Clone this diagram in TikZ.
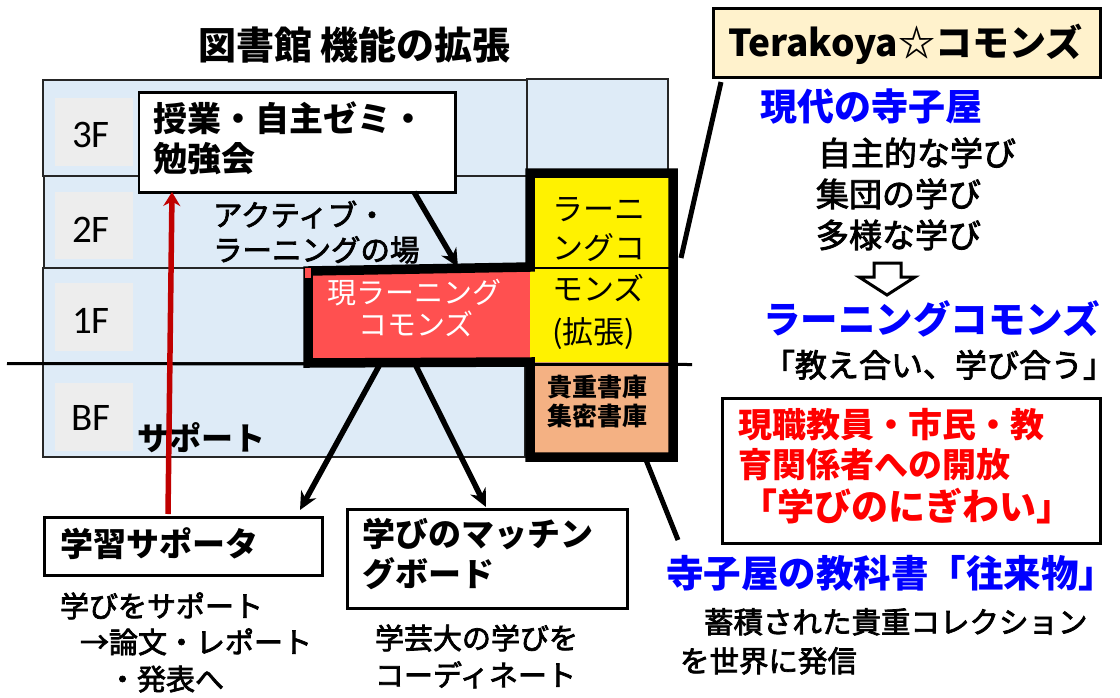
\documentclass[tikz,border=0pt]{standalone}
\usepackage{fontspec}
\setmainfont{Carlito}
\newfontfamily\jp{Noto Sans CJK JP}
\newfontfamily\jpm{Noto Sans CJK JP}[FakeBold=2.5]
\usetikzlibrary{arrows.meta}
\definecolor{lblue}{HTML}{DEEBF7}
\definecolor{lgray}{HTML}{EDEDED}
\definecolor{rfill}{HTML}{FF5050}
\definecolor{ofill}{HTML}{F4B183}
\definecolor{beige}{HTML}{FFF2CC}
\definecolor{tblue}{HTML}{0000FF}
\definecolor{tred}{HTML}{FF0000}
\definecolor{darr}{HTML}{C00000}
\newcommand\fs[1]{\fontsize{#1}{#1}\selectfont}
\begin{document}
\begin{tikzpicture}[x=1pt,y=-1pt,
  t/.style={inner sep=0pt,outer sep=0pt,anchor=base west,font=\jp},
  tc/.style={inner sep=0pt,outer sep=0pt,anchor=base,font=\jp},
  floor/.style={draw=black!85,line width=1.5pt,fill=lblue},
  flab/.style={fill=lgray},
  box/.style={draw=black,line width=2.5pt,fill=white,inner sep=0pt,anchor=north west},
  arr/.style={line width=5.5pt,-{Stealth[length=18pt,width=17pt]}},
  redarr/.style={draw=darr,line width=5.5pt,-{Stealth[length=14pt,width=17pt]}},
  callout/.style={line width=5pt},
]
\useasboundingbox (0,0) rectangle (1120,697);
\fill[white] (0,0) rectangle (1120,697);

% title
\node[t,font=\jp\fs{38}\bfseries] (title) at (198,59) {図書館 機能の拡張};

% floors
\draw[floor] (43,80) rectangle (527,176);
\draw[floor] (44,176) rectangle (527,268);
\draw[floor] (43,268) rectangle (527,363);
\draw[floor] (43,363) rectangle (525,457);
\draw[floor] (527,79) rectangle (668,172);
\fill[flab] (55,98) rectangle (133,166);
\fill[flab] (55,192) rectangle (133,259);
\fill[flab] (55,283) rectangle (133,351);
\fill[flab] (55,383) rectangle (133,451);
\node[tc,font=\rmfamily\fs{39}] (f3) at (91,147) {3F};
\node[tc,font=\rmfamily\fs{39}] (f2) at (91,242) {2F};
\node[tc,font=\rmfamily\fs{39}] (f1) at (91,333) {1F};
\node[tc,font=\rmfamily\fs{39}] (fb) at (91,430) {BF};

% coloured areas
\node[fill=rfill,inner sep=0pt,anchor=north west,minimum width=220pt,minimum height=86pt] (lc) at (310,272) {};
\fill[yellow] (530,175) rectangle (670,362);
\draw[line width=1.5pt] (530,268) -- (670,268);
\fill[ofill] (530,362) rectangle (670,457);
\draw[line width=9.5pt,line join=miter] (308,363) -- (308,271) -- (530,267) -- (530,173) -- (673,173) -- (673,457) -- (530,457) -- (530,362) -- cycle;
\fill[rfill] (305,268) rectangle (311,278);
\draw[line width=3pt] (7,363.5) -- (692,364.5);

\node[tc,font=\jp\fs{29},text=white] (lc1) at (414,303) {現ラーニング};
\node[tc,font=\jp\fs{29},text=white] (lc2) at (416,335) {コモンズ};
\node[t,font=\jp\fs{31}] (y1) at (552,220.5) {ラーニ};
\node[t,font=\jp\fs{31}] (y2) at (552,259.5) {ングコ};
\node[t,font=\jp\fs{31}] (y3) at (552,300.5) {モンズ};
\node[t,font=\jp\fs{31}] (y4) at (552,343) {(拡張)};
\node[t,font=\jp\fs{25}\bfseries] (o1) at (547,396.5) {貴重書庫};
\node[t,font=\jp\fs{25}\bfseries] (o2) at (547,425.5) {集密書庫};

% 3F box
\node[box,minimum width=316.5pt,minimum height=100pt] (jugyo) at (137.5,91) {};
\node[t,font=\jp\fs{34}\bfseries] (j1) at (153,131) {授業・自主ゼミ・};
\node[t,font=\jp\fs{34}\bfseries] (j2) at (153,171) {勉強会};
\node[t,font=\jpm\fs{29.5}] (ac1) at (213,226) {アクティブ・};
\node[t,font=\jpm\fs{29.5}] (ac2) at (213,261) {ラーニングの場};
\coordinate (a1s) at (414,192);
\coordinate (a1e) at (458,267);
\draw[arr] (a1s) -- (a1e);

% support
\node[t,font=\jp\fs{32}\bfseries] (sup) at (137,450) {サポート};
\node[box,minimum width=278pt,minimum height=58pt] (supbox) at (43,516) {};
\node[t,font=\jp\fs{33}\bfseries] (s1) at (60,556.5) {学習サポータ};
\node[t,font=\jpm\fs{29}] (s2) at (60,617) {学びをサポート};
\node[t,font=\jpm\fs{29}] (s3) at (80,653) {→論文・レポート};
\node[t,font=\jpm\fs{29}] (s4) at (108,690) {・発表へ};
\coordinate (rs) at (168,514);
\coordinate (re) at (172,192);
\draw[redarr] (rs) -- (re);

% matching board
\node[box,minimum width=280pt,minimum height=99pt] (match) at (346,508) {};
\node[t,font=\jp\fs{33}\bfseries] (m1) at (362,546.5) {学びのマッチン};
\node[t,font=\jp\fs{33}\bfseries] (m2) at (362,586.5) {グボード};
\node[t,font=\jpm\fs{29}] (g1) at (375,649) {学芸大の学びを};
\node[t,font=\jpm\fs{29}] (g2) at (375,686) {コーディネート};

\coordinate (b1s) at (379,366);
\coordinate (b1e) at (300,510);
\coordinate (b2s) at (416,366);
\coordinate (b2e) at (486,507);
\draw[arr] (b1s) -- (b1e);
\draw[arr] (b2s) -- (b2e);

% right side
\node[draw,line width=2.5pt,fill=beige,inner sep=0pt,anchor=north west,minimum width=387pt,minimum height=69pt] (tera) at (712,7) {};
\node[t,font=\jp\fs{37}\bfseries] (teratxt) at (728,56) {Terakoya☆コモンズ};
\coordinate (c1s) at (721,82);
\coordinate (c1e) at (681,258);
\draw[callout] (c1s) -- (c1e);
\coordinate (c2s) at (646,460);
\coordinate (c2e) at (678,540);
\draw[callout] (c2s) -- (c2e);

\node[t,font=\jp\fs{37}\bfseries,text=tblue] (gendai) at (760,120) {現代の寺子屋};
\node[t,font=\jpm\fs{33}] (r1) at (818,165.5) {自主的な学び};
\node[t,font=\jpm\fs{33}] (r2) at (816,206.5) {集団の学び};
\node[t,font=\jpm\fs{33}] (r3) at (816,247.5) {多様な学び};
\draw[line width=3pt,line join=miter] (874,263) -- (901,263) -- (901,277) -- (915,277) -- (887,295) -- (859,277) -- (874,277) -- cycle;
\node[t,font=\jp\fs{37.5}\bfseries,text=tblue] (lcom) at (763,333) {ラーニングコモンズ};
\node[t,font=\jpm\fs{32}] (oshie) at (763,377) {「教え合い、学び合う」};

\node[draw,line width=2.5pt,fill=white,inner sep=0pt,anchor=north west,minimum width=378pt,minimum height=145pt] (open) at (721,397) {};
\node[t,font=\jp\fs{34}\bfseries,text=tred] (op1) at (738,437) {現職教員・市民・教};
\node[t,font=\jp\fs{34}\bfseries,text=tred] (op2) at (738,477) {育関係者への開放};
\node[t,font=\jp\fs{37}\bfseries,text=tred] (op3) at (740,520) {「学びのにぎわい」};

\node[t,font=\jp\fs{37.5}\bfseries,text=tblue] (orai) at (666,587) {寺子屋の教科書「往来物」};
\node[t,font=\jpm\fs{29.5}] (ch1) at (704,633) {蓄積された貴重コレクション};
\node[t,font=\jpm\fs{29.5}] (ch2) at (680,672) {を世界に発信};
\end{tikzpicture}
\end{document}
